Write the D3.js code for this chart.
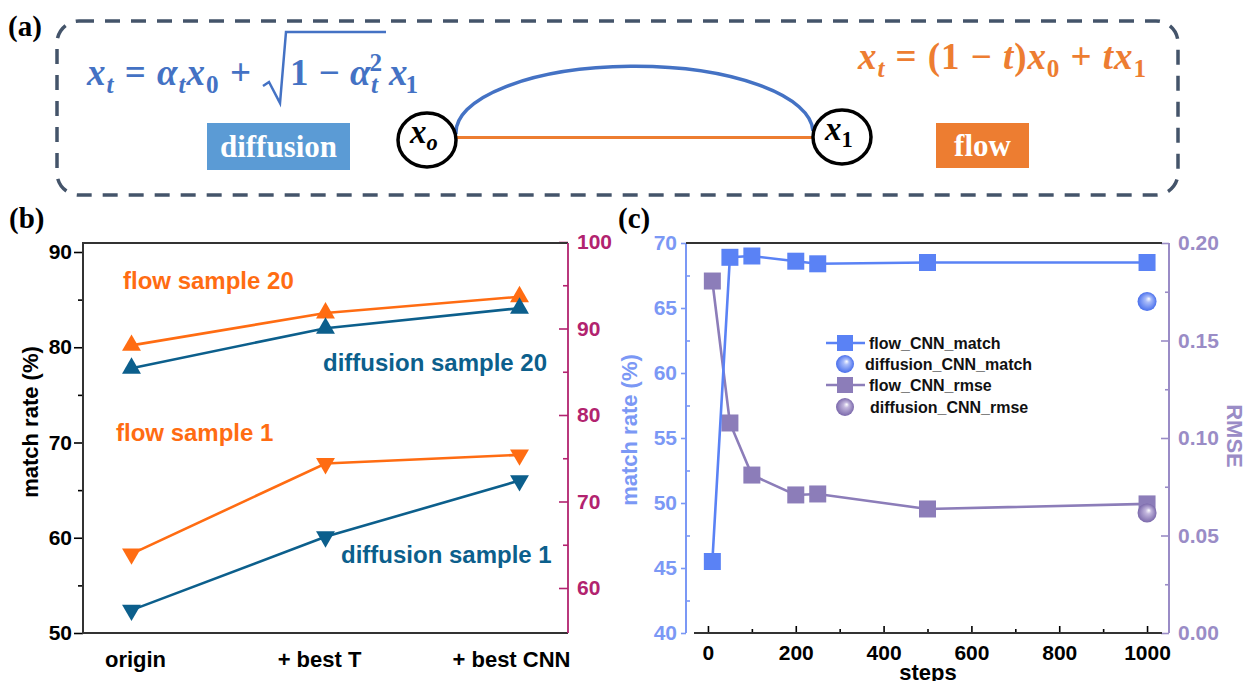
<!DOCTYPE html>
<html>
<head>
<meta charset="utf-8">
<script src="https://cdn.jsdelivr.net/npm/d3@7"></script>
<style>
  body { margin: 0; background: #fff; }
  svg { display: block; }
</style>
</head>
<body>
<svg id="fig" width="1247" height="681"></svg>
<script>
// ---- panel (b) data ----
const bCategories = ["origin", "+ best T", "+ best CNN"];
const flowSample20 = [80.2, 83.6, 85.3];
const diffSample20 = [77.8, 82.0, 84.1];
const flowSample1 = [58.3, 67.8, 68.7];
const diffSample1 = [52.4, 60.1, 66.0];
const bLeftTicks = [50, 60, 70, 80, 90];
const bLeftMinor = [55, 65, 75, 85];
const bRightTicks = [60, 70, 80, 90, 100];
const bRightMinor = [65, 75, 85, 95];

// ---- panel (c) data ----
const steps = [10, 50, 100, 200, 250, 500, 1000];
const flowCnnMatch = [45.5, 68.9, 69.0, 68.6, 68.4, 68.5, 68.5];
const flowCnnRmse = [0.1805, 0.1077, 0.081, 0.0708, 0.0713, 0.0636, 0.0662];
const diffCnnMatch = [{ step: 1000, value: 65.5 }];
const diffCnnRmse = [{ step: 1000, value: 0.0615 }];
const cLeftTicks = [40, 45, 50, 55, 60, 65, 70];
const cLeftMinor = [42.5, 47.5, 52.5, 57.5, 62.5, 67.5];
const cRightTicks = [0, 0.05, 0.10, 0.15, 0.20];
const cRightMinor = [0.025, 0.075, 0.125, 0.175];
const cStepTicks = [0, 200, 400, 600, 800, 1000];
const cStepMinor = [100, 300, 500, 700, 900];
const cLegend = ["flow_CNN_match", "diffusion_CNN_match", "flow_CNN_rmse", "diffusion_CNN_rmse"];

const svg = d3.select("#fig");
const SANS = "'Liberation Sans', Arial, sans-serif";
const SERIF = "'Liberation Serif', 'Times New Roman', serif";

const ORANGE = "#ff6c12", TEAL = "#0c5f8c", MAGENTA = "#b2236f";
const BLUE = "#5a82f5", PURPLE = "#8c7db9", BLUE_AX = "#7b98f5", PURPLE_AX = "#9a8cc6";

// gradients for the sphere markers
const defs = svg.append("defs");
function sphereGrad(id, light, dark) {
  const g = defs.append("radialGradient").attr("id", id)
    .attr("cx", "50%").attr("cy", "50%").attr("r", "50%")
    .attr("fx", "60%").attr("fy", "35%");
  g.append("stop").attr("offset", "0%").attr("stop-color", "#ffffff");
  g.append("stop").attr("offset", "30%").attr("stop-color", light);
  g.append("stop").attr("offset", "100%").attr("stop-color", dark);
}
sphereGrad("gBlue", "#a9bcfa", "#4a70ec");
sphereGrad("gPurple", "#c2b6dd", "#7b69ab");

// panel letters
[["(a)", 8, 36], ["(b)", 9, 228], ["(c)", 618, 228]].forEach(([t, x, y]) => {
  svg.append("text").attr("x", x).attr("y", y).text(t)
    .attr("font-family", SERIF).attr("font-weight", "bold").attr("font-size", 29);
});

// ================= panel (a) =================
const pa = svg.append("g");
pa.append("rect").attr("x", 57).attr("y", 21).attr("width", 1121).attr("height", 174)
  .attr("rx", 22).attr("fill", "none").attr("stroke", "#44546a")
  .attr("stroke-width", 3.5).attr("stroke-dasharray", "15 11");

function mathText(g, x, y, parts, size, color, len) {
  const t = g.append("text").attr("x", x).attr("y", y).attr("fill", color)
    .attr("font-family", SERIF).attr("font-weight", "bold").attr("font-size", size);
  parts.forEach(p => {
    const s = t.append("tspan").text(p.t);
    if (p.it) s.attr("font-style", "italic");
    if (p.pos === "sub") s.attr("y", y + size * 0.22).attr("font-size", size * 0.68);
    else if (p.pos === "sup") s.attr("y", y - size * 0.38).attr("font-size", size * 0.68);
    else s.attr("y", y);
    if (p.dx) s.attr("dx", p.dx);
  });
  if (len) t.attr("textLength", len).attr("lengthAdjust", "spacing");
  return t;
}

// diffusion formula
mathText(pa, 87, 85, [
  { t: "x", it: 1 }, { t: "t", it: 1, pos: "sub" }, { t: " = " },
  { t: "α", it: 1 }, { t: "t", it: 1, pos: "sub" }, { t: "x", it: 1 }, { t: "0", pos: "sub" },
  { t: " +" }
], 37, "#4472c4", 164);
pa.append("path").attr("d", "M263,86 L269,82 L280,103 L286,32 L386,32")
  .attr("fill", "none").attr("stroke", "#4472c4").attr("stroke-width", 2.5);
mathText(pa, 290, 85, [
  { t: "1 − " }, { t: "α", it: 1 }, { t: "t", it: 1, pos: "sub" }, { t: "2", pos: "sup", dx: -9 }
], 37, "#4472c4", 92);
mathText(pa, 389, 85, [{ t: "x", it: 1 }, { t: "1", pos: "sub" }], 37, "#4472c4", 29);

// flow formula
mathText(pa, 858, 69, [
  { t: "x", it: 1 }, { t: "t", it: 1, pos: "sub" }, { t: " = (1 − " }, { t: "t", it: 1 }, { t: ")" },
  { t: "x", it: 1 }, { t: "0", pos: "sub" }, { t: " + " }, { t: "tx", it: 1 }, { t: "1", pos: "sub" }
], 37, "#ed7d31", 288);

// path between the two states
pa.append("path").attr("d", "M456,134 A178,66 0 0,1 813,131")
  .attr("fill", "none").attr("stroke", "#4472c4").attr("stroke-width", 3.5);
pa.append("line").attr("x1", 456).attr("x2", 813).attr("y1", 137.5).attr("y2", 137.5)
  .attr("stroke", "#ed7d31").attr("stroke-width", 3);
[[427, 140], [842, 137]].forEach(([cx, cy]) => {
  pa.append("ellipse").attr("cx", cx).attr("cy", cy).attr("rx", 29).attr("ry", 27)
    .attr("fill", "#fff").attr("stroke", "#000").attr("stroke-width", 3.5);
});
mathText(pa, 410, 143, [{ t: "x", it: 1 }, { t: "o", it: 1, pos: "sub" }], 33, "#000");
mathText(pa, 825, 140, [{ t: "x", it: 1 }, { t: "1", pos: "sub" }], 33, "#000");

// labels in boxes
[["diffusion", 207, 123, 143, 47, "#5b9bd5"], ["flow", 936, 123, 93, 45, "#ed7d31"]].forEach(([t, x, y, w, h, c]) => {
  pa.append("rect").attr("x", x).attr("y", y).attr("width", w).attr("height", h).attr("fill", c);
  pa.append("text").attr("x", x + w / 2).attr("y", y + h / 2 + 10).attr("text-anchor", "middle")
    .attr("fill", "#fff").attr("font-family", SERIF).attr("font-weight", "bold").attr("font-size", 31).text(t);
});

// ================= panel (b) =================
const bL = 83, bR = 568, bT = 243, bB = 633;
const xb = d3.scaleLinear().domain([-0.25, 2.25]).range([bL, bR]);
const ybL = d3.scaleLinear().domain([50, 90]).range([bB, 252]);
const ybR = d3.scaleLinear().domain([100, 60]).range([242, 588]);
const pb = svg.append("g");

function styleAxis(g, color, size) {
  g.select(".domain").remove();
  g.selectAll("line").attr("stroke", color).attr("stroke-width", 1.6);
  g.selectAll("text").attr("fill", color).attr("font-family", SANS)
    .attr("font-weight", "bold").attr("font-size", size);
}

pb.append("g").attr("transform", `translate(${bL},0)`)
  .call(d3.axisLeft(ybL).tickValues(bLeftTicks).tickSize(9).tickPadding(2))
  .call(g => styleAxis(g, "#000", 21));
pb.append("g").attr("transform", `translate(${bL},0)`)
  .call(d3.axisLeft(ybL).tickValues(bLeftMinor).tickSize(5).tickFormat(""))
  .call(g => styleAxis(g, "#000", 21));
pb.append("g").attr("transform", `translate(${bR},0)`)
  .call(d3.axisRight(ybR).tickValues(bRightTicks).tickSize(-9).tickPadding(9))
  .call(g => styleAxis(g, MAGENTA, 21));
pb.append("g").attr("transform", `translate(${bR},0)`)
  .call(d3.axisRight(ybR).tickValues(bRightMinor).tickSize(-5).tickFormat(""))
  .call(g => styleAxis(g, MAGENTA, 21));

// frame
pb.append("path").attr("d", `M${bR},${bT} H${bL} V${bB} H${bR}`)
  .attr("fill", "none").attr("stroke", "#333").attr("stroke-width", 2);
pb.append("line").attr("x1", bR).attr("x2", bR).attr("y1", bT).attr("y2", bB)
  .attr("stroke", MAGENTA).attr("stroke-width", 1.8);

// category labels
pb.selectAll(".cat").data(bCategories).join("text")
  .attr("x", (d, i) => xb(i) + (i === 0 ? 4 : i === 1 ? -6 : -8)).attr("y", 667)
  .attr("text-anchor", "middle").attr("font-family", SANS).attr("font-weight", "bold")
  .attr("font-size", 22).text(d => d);

pb.append("text").attr("transform", "translate(38,422) rotate(-90)")
  .attr("text-anchor", "middle").attr("font-family", SANS).attr("font-weight", "bold")
  .attr("font-size", 22).text("match rate (%)");

const bSeries = [
  { vals: flowSample20, color: ORANGE, up: true },
  { vals: diffSample20, color: TEAL, up: true },
  { vals: flowSample1, color: ORANGE, up: false },
  { vals: diffSample1, color: TEAL, up: false }
];
const bLine = d3.line().x((d, i) => xb(i)).y(d => ybL(d));
const tri = d3.symbol().type(d3.symbolTriangle).size(155);
bSeries.forEach(s => {
  pb.append("path").attr("d", bLine(s.vals)).attr("fill", "none")
    .attr("stroke", s.color).attr("stroke-width", 2.6);
  pb.selectAll(null).data(s.vals).join("path")
    .attr("d", tri)
    .attr("transform", (d, i) => `translate(${xb(i)},${ybL(d)}) rotate(${s.up ? 0 : 180})`)
    .attr("fill", s.color);
});

[["flow sample 20", 123, 289, ORANGE], ["flow sample 1", 116, 441, ORANGE],
 ["diffusion sample 20", 323, 371, TEAL], ["diffusion sample 1", 341, 563, TEAL]].forEach(([t, x, y, c]) => {
  pb.append("text").attr("x", x).attr("y", y).attr("fill", c).attr("font-family", SANS)
    .attr("font-weight", "bold").attr("font-size", 24).text(t);
});

// ================= panel (c) =================
const cL = 686, cR = 1169, cT = 243, cB = 633;
const xc = d3.scaleLinear().domain([-50, 1050]).range([cL, cR]);
const ycL = d3.scaleLinear().domain([40, 70]).range([cB, cT]);
const ycR = d3.scaleLinear().domain([0, 0.2]).range([cB, cT]);
const pc = svg.append("g");

// left axis
pc.append("g").attr("transform", `translate(${cL},0)`)
  .call(d3.axisLeft(ycL).tickValues(cLeftTicks).tickSize(5).tickPadding(4))
  .call(g => styleAxis(g, BLUE_AX, 21));
pc.append("g").attr("transform", `translate(${cL},0)`)
  .call(d3.axisLeft(ycL).tickValues(cLeftMinor).tickSize(-4).tickFormat(""))
  .call(g => styleAxis(g, BLUE_AX, 21));
pc.append("line").attr("x1", cL).attr("x2", cL).attr("y1", cT).attr("y2", cB)
  .attr("stroke", BLUE_AX).attr("stroke-width", 2);

// right axis
pc.append("g").attr("transform", `translate(${cR},0)`)
  .call(d3.axisRight(ycR).tickValues(cRightTicks).tickSize(-8).tickPadding(9).tickFormat(d3.format(".2f")))
  .call(g => styleAxis(g, PURPLE_AX, 21));
pc.append("g").attr("transform", `translate(${cR},0)`)
  .call(d3.axisRight(ycR).tickValues(cRightMinor).tickSize(-4).tickFormat(""))
  .call(g => styleAxis(g, PURPLE_AX, 21));
pc.append("line").attr("x1", cR).attr("x2", cR).attr("y1", cT).attr("y2", cB)
  .attr("stroke", PURPLE_AX).attr("stroke-width", 2);

// bottom axis
pc.append("g").attr("transform", `translate(0,${cB})`)
  .call(d3.axisBottom(xc).tickValues(cStepTicks).tickSize(-7).tickPadding(12).tickFormat(d3.format("d")))
  .call(g => styleAxis(g, "#000", 21));
pc.append("g").attr("transform", `translate(0,${cB})`)
  .call(d3.axisBottom(xc).tickValues(cStepMinor).tickSize(-4).tickFormat(""))
  .call(g => styleAxis(g, "#000", 21));
pc.append("line").attr("x1", 694).attr("x2", 1162).attr("y1", cB).attr("y2", cB)
  .attr("stroke", "#333").attr("stroke-width", 2);
pc.append("line").attr("x1", cL).attr("x2", 1162).attr("y1", cT).attr("y2", cT)
  .attr("stroke", "#333").attr("stroke-width", 2);

pc.append("text").attr("transform", "translate(637,430) rotate(-90)")
  .attr("text-anchor", "middle").attr("fill", BLUE_AX).attr("font-family", SANS)
  .attr("font-weight", "bold").attr("font-size", 22).text("match rate (%)");
pc.append("text").attr("transform", "translate(1227,436) rotate(90)")
  .attr("text-anchor", "middle").attr("fill", PURPLE_AX).attr("font-family", SANS)
  .attr("font-weight", "bold").attr("font-size", 22).text("RMSE");
pc.append("text").attr("x", 928).attr("y", 680).attr("text-anchor", "middle")
  .attr("font-family", SANS).attr("font-weight", "bold").attr("font-size", 22).text("steps");

// series
const sq = 17;
function squareSeries(vals, yScale, color) {
  const line = d3.line().x((d, i) => xc(steps[i])).y(d => yScale(d));
  pc.append("path").attr("d", line(vals)).attr("fill", "none")
    .attr("stroke", color).attr("stroke-width", 2.6);
  pc.selectAll(null).data(vals).join("rect")
    .attr("x", (d, i) => xc(steps[i]) - sq / 2).attr("y", d => yScale(d) - sq / 2)
    .attr("width", sq).attr("height", sq).attr("fill", color);
}
squareSeries(flowCnnRmse, ycR, PURPLE);
squareSeries(flowCnnMatch, ycL, BLUE);
pc.selectAll(null).data(diffCnnRmse).join("circle")
  .attr("cx", d => xc(d.step)).attr("cy", d => ycR(d.value)).attr("r", 9.5)
  .attr("fill", "url(#gPurple)");
pc.selectAll(null).data(diffCnnMatch).join("circle")
  .attr("cx", d => xc(d.step)).attr("cy", d => ycL(d.value)).attr("r", 9.5)
  .attr("fill", "url(#gBlue)");

// legend
const lg = pc.append("g");
const legY = [343, 364, 385, 407];
const legTx = [869, 865, 869, 870];
cLegend.forEach((name, i) => {
  const col = i < 2 ? BLUE : PURPLE;
  if (i % 2 === 0) {
    lg.append("line").attr("x1", 826).attr("x2", 865).attr("y1", legY[i]).attr("y2", legY[i])
      .attr("stroke", col).attr("stroke-width", 2.4);
    lg.append("rect").attr("x", 845 - 8).attr("y", legY[i] - 8).attr("width", 16).attr("height", 16)
      .attr("fill", col);
  } else {
    lg.append("circle").attr("cx", 845).attr("cy", legY[i]).attr("r", 9)
      .attr("fill", i === 1 ? "url(#gBlue)" : "url(#gPurple)");
  }
  lg.append("text").attr("x", legTx[i]).attr("y", legY[i] + 5.5)
    .attr("font-family", SANS).attr("font-weight", "bold").attr("font-size", 16)
    .attr("fill", "#111").text(name);
});
</script>
</body>
</html>
